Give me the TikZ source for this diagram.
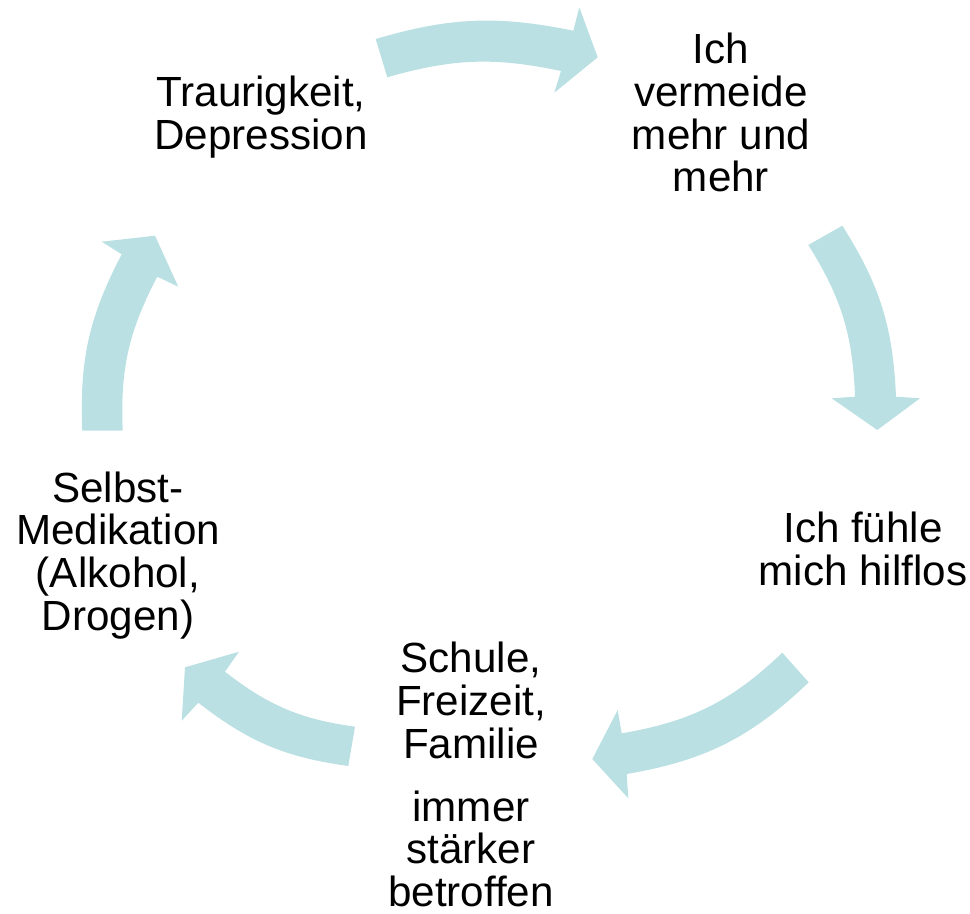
\documentclass[tikz,border=0pt]{standalone}
\usepackage{fontspec}
\setmainfont{Liberation Sans}
\definecolor{cyclefill}{RGB}{187,224,227}

\begin{document}
\begin{tikzpicture}[
    cyclearrow/.style={fill=cyclefill},
    steptext/.style={align=center, inner sep=0pt, font=\fontsize{24}{24.4}\selectfont}
  ]
        \useasboundingbox (-9.8,-9.66) rectangle (9.6,8.6);

        \node (sad)      at (-4.58,  6.26)  [steptext] {Traurigkeit,\\Depression};
        \node (avoid)    at ( 4.62,  6.35)  [steptext] {Ich\\vermeide\\mehr und\\mehr};
        \node (helpless) at ( 7.46, -2.38)  [steptext] {Ich fühle\\mich hilflos};
        \node (school)   at (-0.38, -6.89)  [steptext] {Schule,\\Freizeit,\\Familie\\[0.4cm]immer\\stärker\\betroffen};
        \node (selfmed)  at (-7.44, -2.51)  [steptext] {Selbst-\\Medikation\\(Alkohol,\\Drogen)};

        \fill [cyclearrow] (-2.286, 7.82) to[bend left=14] (1.666, 7.986) -- (1.786, 8.454) -- (2.154, 7.454)
              -- (1.286, 6.746) -- (1.42, 7.18) to[bend right=14] (-2.054, 7.054) -- cycle;
        \fill [cyclearrow] (7.046, 4.086) to[bend left=15] (8.12, 0.666) -- (8.6, 0.634) -- (7.746, 0)
              -- (6.834, 0.634) -- (7.3, 0.666) to[bend right=15] (6.366, 3.70) -- cycle;
        \fill [cyclearrow] (6.374, -5.046) to[bend left=17] (2.734, -6.88) -- (2.766, -7.366) -- (2.046, -6.58)
              -- (2.554, -5.6) -- (2.634, -6.066) to[bend right=17] (5.846, -4.454) -- cycle;
        \fill [cyclearrow] (-2.834, -6.72) to[bend left=15] (-5.834, -5.454) -- (-6.166, -5.814) -- (-6.1, -4.746)
              -- (-5.02, -4.434) -- (-5.3, -4.834) to[bend right=15] (-2.7, -5.934) -- cycle;
        \fill [cyclearrow] (-8.154, -0.014) to[bend left=15] (-7.366, 3.514) -- (-7.766, 3.766) -- (-6.7, 3.886)
              -- (-6.234, 2.866) -- (-6.654, 3.066) to[bend right=15] (-7.346, -0.014) -- cycle;
      \end{tikzpicture}
\end{document}
